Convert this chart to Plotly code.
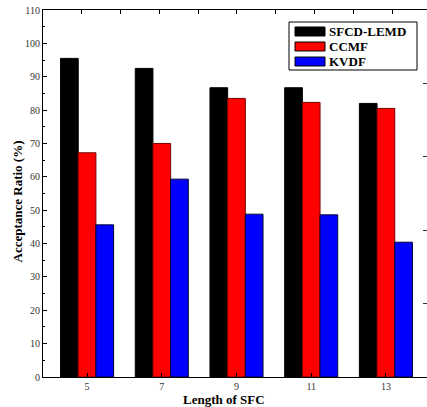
import plotly.graph_objects as go

lengths = [5, 7, 9, 11, 13]
sfcd_lemd = [95.5, 92.5, 86.7, 86.7, 82.0]
ccmf = [67.2, 70.0, 83.5, 82.3, 80.5]
kvdf = [45.6, 59.3, 48.8, 48.6, 40.4]
y_ticks = [0, 10, 20, 30, 40, 50, 60, 70, 80, 90, 100, 110]
right_ticks = [22, 44, 66, 88]
top_ticks = [1, 2, 3, 4, 5, 6, 7, 8, 9]

series = [
    ("SFCD-LEMD", sfcd_lemd, "#000000", "#000000"),
    ("CCMF", ccmf, "#FF0000", "#7a0000"),
    ("KVDF", kvdf, "#0000FF", "#000033"),
]

SERIF = "Liberation Serif"
W, H = 427, 407
ML, MR, MT, MB = 43, 0, 10, 30
PW, PH = W - ML - MR, H - MT - MB


def px(x):
    return (x - ML) / PW


def py(y):
    return 1 - (y - MT) / PH


fig = go.Figure()
for name, vals, col, edge in series:
    fig.add_trace(go.Bar(x=lengths, y=vals, name=name, showlegend=False,
                         marker=dict(color=col, line=dict(color=edge, width=1))))

fig.add_trace(go.Scatter(x=[top_ticks[0]], y=[0], xaxis="x2", yaxis="y2", mode="markers",
                         marker=dict(opacity=0), showlegend=False, hoverinfo="skip"))

shapes = []
annotations = []
# legend box
shapes.append(dict(type="rect", xref="paper", yref="paper", x0=px(289), x1=px(417), y0=py(70), y1=py(22),
                   line=dict(color="#000", width=1), fillcolor="white", layer="above"))
row_tops = [27, 42, 57]
for (name, vals, col, edge), top in zip(series, row_tops):
    shapes.append(dict(type="rect", xref="paper", yref="paper", x0=px(295), x1=px(325),
                       y0=py(top + 9), y1=py(top), line=dict(color="#000", width=1), fillcolor=col,
                       layer="above"))
    annotations.append(dict(text=f"<b>{name}</b>", xref="paper", yref="paper", x=px(327), y=py(top + 4.5),
                            xanchor="left", yanchor="middle", showarrow=False,
                            font=dict(family=SERIF, size=13, color="#000")))

annotations.append(dict(text="<b>Length of SFC</b>", xref="paper", yref="paper", x=px(224), y=py(399),
                        xanchor="center", yanchor="middle", showarrow=False,
                        font=dict(family=SERIF, size=13, color="#000")))
annotations.append(dict(text="<b>Acceptance Ratio (%)</b>", xref="paper", yref="paper", x=px(17.5), y=py(202),
                        xanchor="center", yanchor="middle", showarrow=False, textangle=-90,
                        font=dict(family=SERIF, size=13, color="#000")))

fig.update_layout(
    width=W, height=H,
    margin=dict(l=ML, r=MR, t=MT, b=MB),
    paper_bgcolor="white", plot_bgcolor="white",
    barmode="group", bargap=0.29, bargroupgap=0,
    font=dict(family=SERIF, size=10, color="#222"),
    showlegend=False,
    xaxis=dict(
        range=[3.82, 14.1], tickvals=lengths, ticktext=[str(v) for v in lengths],
        ticks="inside", ticklen=4, tickcolor="#000", showline=True, linecolor="#000", linewidth=1,
        mirror=False, showgrid=False, zeroline=False,
        tickfont=dict(family=SERIF, size=10, color="#333"),
    ),
    xaxis2=dict(
        overlaying="x", side="top", range=[0, 9.9], tickvals=top_ticks, showticklabels=False,
        ticks="inside", ticklen=4, tickcolor="#000", showline=True, linecolor="#000", linewidth=1,
        showgrid=False, zeroline=False,
    ),
    yaxis=dict(
        range=[0, 110], tickvals=y_ticks, ticks="inside", ticklen=4, tickcolor="#000",
        showline=True, linecolor="#000", linewidth=1, mirror=False, showgrid=False, zeroline=False,
        tickfont=dict(family=SERIF, size=10, color="#333"),
        minor=dict(dtick=5, ticks="inside", ticklen=2, tickcolor="#000"),
    ),
    yaxis2=dict(
        overlaying="y", side="right", range=[0, 110], tickvals=right_ticks, showticklabels=False,
        ticks="inside", ticklen=4, tickcolor="#333", showline=False, showgrid=False, zeroline=False,
    ),
    shapes=shapes,
    annotations=annotations,
)

fig.write_html("out.html")
